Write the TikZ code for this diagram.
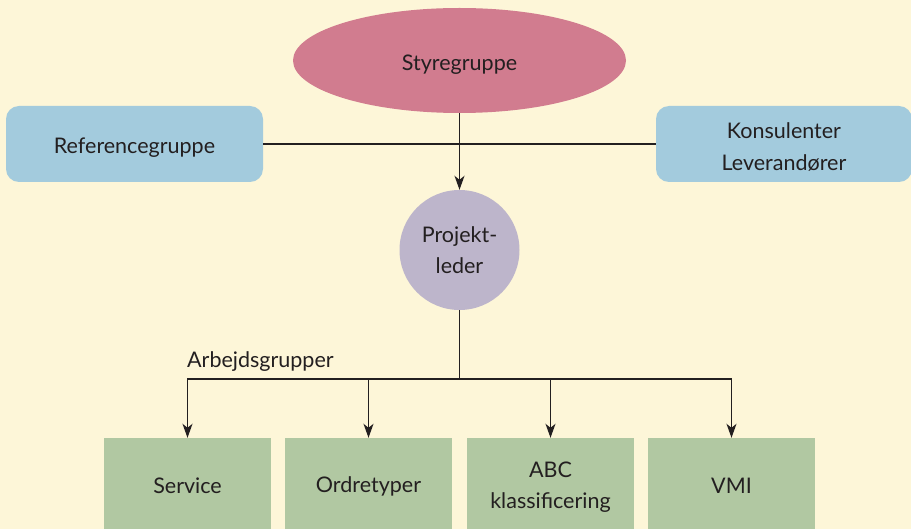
\documentclass[tikz,border=0pt]{standalone}
\usepackage{fontspec}
\setmainfont{Lato}
\usetikzlibrary{shapes.geometric,arrows.meta}
\definecolor{bg}{HTML}{FDF6D8}
\definecolor{rose}{HTML}{D17C8F}
\definecolor{sky}{HTML}{A3CBDD}
\definecolor{lilac}{HTML}{BDB5CB}
\definecolor{sage}{HTML}{B1C8A2}
\definecolor{ink}{HTML}{231F20}
\newcommand\lowr[2]{\raisebox{-#1}[\height][\depth]{#2}}
\tikzset{
  lbl/.style={text=ink, font=\fontsize{21.5}{31}\selectfont, align=center, inner sep=0pt},
  styre/.style={lbl, ellipse, fill=rose, minimum width=333pt, minimum height=105pt},
  bluebox/.style={lbl, rectangle, rounded corners=13pt, fill=sky, minimum width=257pt, minimum height=76pt},
  leader/.style={lbl, circle, fill=lilac, minimum size=120pt},
  greenbox/.style={lbl, rectangle, fill=sage, minimum width=167pt, minimum height=96pt},
  conn/.style={draw=ink, line width=1.4pt},
  arr/.style={conn, -{Stealth[length=14pt,width=10pt,inset=4pt]}}
}
\begin{document}
\begin{tikzpicture}[x=1pt,y=-1pt]
\fill[bg] (0,0) rectangle (911,529);
\clip (0,0) rectangle (911,529);
\node[styre] (sg) at (459.5,60.5) {\lowr{4pt}{Styregruppe}};
\node[bluebox] (ref) at (134.5,144) {\lowr{4pt}{Referencegruppe}};
\node[bluebox, minimum width=256pt, font=\fontsize{21.5}{32}\selectfont] (kon) at (784,144) {\lowr{3pt}{Konsulenter}\\\lowr{3pt}{Leverandører}};
\node[leader] (pl) at (459.5,250) {Projekt-\\leder};
\node[greenbox] (s1) at (187.5,486) {Service};
\node[greenbox] (s2) at (368.5,486) {Ordretyper};
\node[greenbox] (s3) at (550.5,486) {\lowr{1pt}{ABC}\\\lowr{1pt}{klassificering}};
\node[greenbox] (s4) at (731.5,486) {VMI};
\node[lbl, anchor=base west] (ag) at (187,368) {Arbejdsgrupper};
\coordinate (j) at (459.5,379);
\draw[conn] (ref.east) -- (kon.west);
\draw[arr] (sg.south) -- (pl.north);
\draw[conn] (pl.south) -- (j);
\draw[arr] (j) -| (s1.north);
\draw[arr] (j) -| (s2.north);
\draw[arr] (j) -| (s3.north);
\draw[arr] (j) -| (s4.north);
\end{tikzpicture}
\end{document}
